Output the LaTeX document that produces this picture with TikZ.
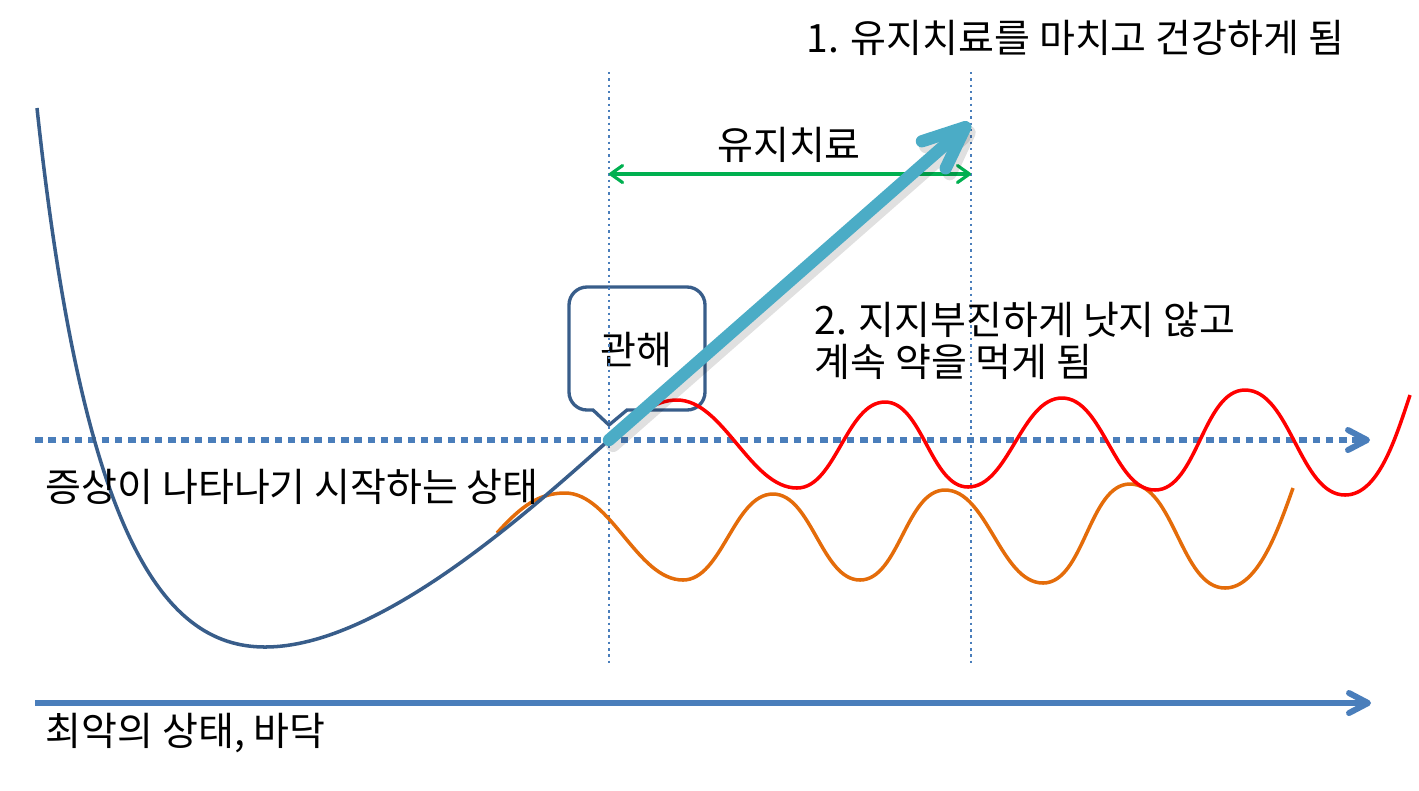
\documentclass[tikz,border=0pt]{standalone}
\usepackage{fontspec}
\setmainfont{Noto Sans CJK KR}
\usetikzlibrary{arrows.meta,positioning}

\definecolor{curveblue}{HTML}{385D8A}
\definecolor{axisblue}{HTML}{4A7EBB}
\definecolor{arrowcyan}{HTML}{4BACC6}
\definecolor{treatgreen}{HTML}{00B050}
\definecolor{wavered}{HTML}{FF0000}
\definecolor{waveorange}{HTML}{E46C0A}

\tikzset{
  lbl/.style={font=\fontsize{11.1pt}{12pt}\selectfont, inner sep=0pt},
  levelline/.style={axisblue, line width=1.7pt, -{Straight Barb[length=0.19cm,width=0.2cm,round]}},
  guide/.style={axisblue, line width=0.45pt, dash pattern=on 0.7pt off 1.1pt},
  wave/.style={line width=1pt, line cap=butt},
  bubble/.style={curveblue, line width=0.95pt},
}

\begin{document}
\begin{tikzpicture}[x=0.01cm, y=-0.01cm]
    \useasboundingbox (0,0) rectangle (1419,790);
    % points on the chart
    \coordinate (onset) at (609,440);
    \coordinate (cured) at (970,123);
    \coordinate (lvlL) at (35,440);
    \coordinate (lvlR) at (1370,440);
    \coordinate (botL) at (35,703);
    \coordinate (botR) at (1371,703);

    % callout box
    \draw[bubble, rounded corners=0.18cm] (569,287) rectangle (705,410);
    \fill[white] (594,407.5) rectangle (626,412.5);
    \draw[bubble, line join=miter] (593,410) -- (609,425) -- (627,410);
    \node[lbl] (remission) at (636,350) {관해};

    % guide lines
    \draw[guide] (609,72) -- (609,667);
    \draw[guide] (971,72) -- (971,667);

    % levels
    \draw[levelline, line cap=butt, dash pattern=on 0.075cm off 0.058cm] (lvlL) -- (lvlR);
    \draw[levelline] (botL) -- (botR);

    % maintenance treatment
    \draw[treatgreen, line width=0.9pt, {Straight Barb[length=0.12cm,width=0.17cm,round]}-{Straight Barb[length=0.12cm,width=0.17cm,round]}] (609,174) -- (971,174);
    \node[lbl] (maint) at (789,145) {유지치료};

    % waves
    \draw[wave, waveorange] (497,533) .. controls (522,505) and (540,493) .. (565,493)
        to[out=0,in=180,looseness=0.8] (683,580) to[out=0,in=180,looseness=0.8] (773,494)
        to[out=0,in=180,looseness=0.8] (860,580) to[out=0,in=180,looseness=0.8] (945,490)
        to[out=0,in=180,looseness=0.8] (1043,583) to[out=0,in=180,looseness=0.8] (1130,484)
        to[out=0,in=180,looseness=0.8] (1225,588) .. controls (1258,588) and (1278,530) .. (1293,488);
    \draw[wave, wavered] (onset) .. controls (635,415) and (655,400) .. (677,400)
        to[out=0,in=180,looseness=0.8] (797,488) to[out=0,in=180,looseness=0.8] (885,402)
        to[out=0,in=180,looseness=0.8] (968,487) to[out=0,in=180,looseness=0.8] (1062,398)
        to[out=0,in=180,looseness=0.8] (1155,490) to[out=0,in=180,looseness=0.8] (1245,390)
        to[out=0,in=180,looseness=0.8] (1345,495) .. controls (1378,495) and (1395,440) .. (1410,395);

    % illness curve
    \draw[curveblue, line width=1pt] (37,108) .. controls (82,528) and (160,647) .. (265,647)
        .. controls (380,647) and (530,510) .. (onset);

    % recovery arrow with shadow
    \draw[black, opacity=0.12, line width=4pt, line cap=round,
        -{Straight Barb[length=0.41cm,width=0.36cm,round]}] ([shift={(4,5)}]onset) -- ([shift={(4,5)}]cured);
    \draw[arrowcyan, line width=3.5pt, line cap=round,
        -{Straight Barb[length=0.42cm,width=0.36cm,round]}] (onset) -- (cured);

    % texts
    \node[lbl, anchor=west] (healthy) at (806,38) {1. 유지치료를 마치고 건강하게 됨};
    \node[lbl, anchor=west, align=left] (stalled) at (814,341) {2. 지지부진하게 낫지 않고\\계속 약을 먹게 됨};
    \node[lbl, anchor=west] (symptom) at (45,487) {증상이 나타나기 시작하는 상태};
    \node[lbl, anchor=west] (bottom) at (45,733) {최악의 상태, 바닥};
\end{tikzpicture}
\end{document}
